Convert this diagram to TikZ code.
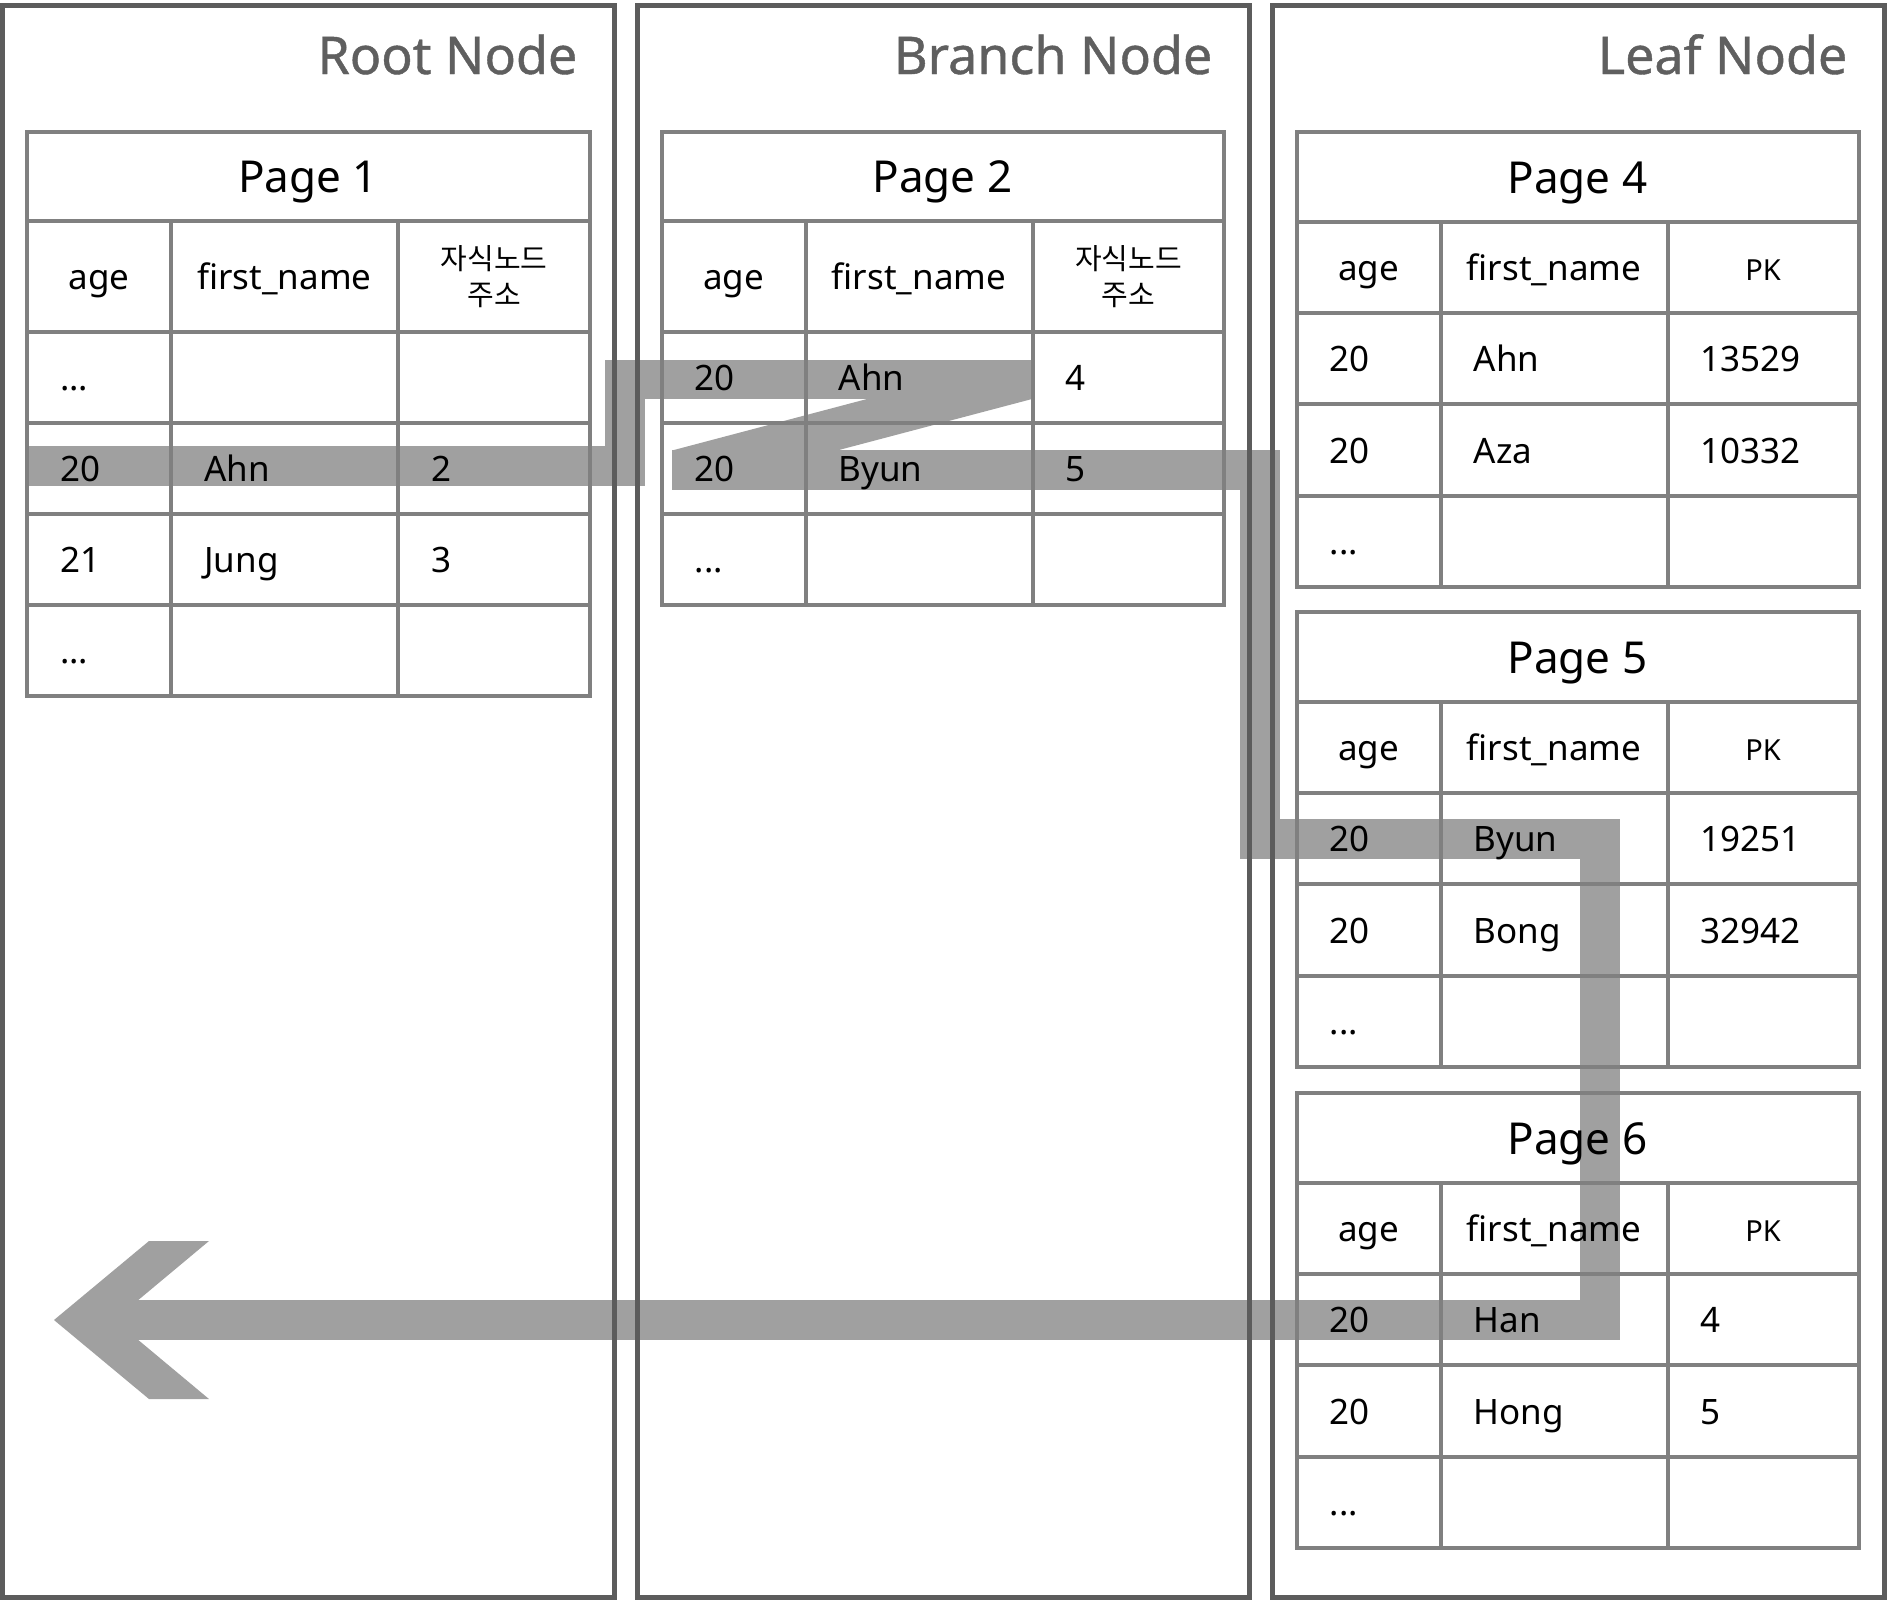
\documentclass[tikz,border=0pt]{standalone}
\usepackage{fontspec}
\setmainfont{Noto Sans}
\newfontfamily\krfont{Noto Sans CJK KR}
\newfontfamily\ttlfont[FakeBold=0.8]{Noto Sans}
\definecolor{panelgray}{HTML}{5C5C5C}
\definecolor{gridgray}{HTML}{808080}
\definecolor{bandgray}{HTML}{A0A0A0}
\definecolor{titlegray}{HTML}{5F5F5F}
\newcommand\dotsx{...}
\tikzset{
  panel/.style={draw=panelgray, line width=5pt},
  grid/.style={draw=gridgray, line width=4pt},
  band/.style={draw=bandgray, line width=39.5pt, line join=miter, line cap=butt},
  ttl/.style={font=\ttlfont\fontsize{52}{62}\selectfont, text=titlegray, anchor=base east, inner sep=0pt},
  pg/.style={font=\fontsize{44}{52}\selectfont, anchor=base, inner sep=0pt},
  hd/.style={font=\fontsize{35}{42}\selectfont, anchor=base, inner sep=0pt},
  pk/.style={font=\fontsize{29}{35}\selectfont, anchor=base, inner sep=0pt},
  kr/.style={font=\krfont\fontsize{29}{36}\selectfont, align=center, inner sep=0pt},
  cell/.style={font=\fontsize{35}{42}\selectfont, anchor=base west, inner sep=0pt},
}
\begin{document}
\begin{tikzpicture}[x=1pt,y=-1pt]
\useasboundingbox (0,0) rectangle (1888,1604);
\fill[white] (0,0) rectangle (1888,1604);

% ---------- highlight band (drawn first, below lines and text)
\draw[band] (27,466) -- (625,466) -- (625,379.5) -- (1032,379.5);
\fill[bandgray] (867,399) -- (1032,399) -- (837,450.5) -- (672,450.5) -- cycle;
\draw[band] (672,470) -- (1260,470) -- (1260,839) -- (1600,839) -- (1600,1320) -- (138,1320);
\fill[bandgray] (54,1320) -- (149,1241) -- (209,1241) -- (138,1300.25) -- (138,1339.75) -- (209,1399) -- (149,1399) -- cycle;

% ---------- panels
\draw[panel] (2.5,5) rectangle (614.5,1597);
\draw[panel] (637.5,5) rectangle (1249.5,1597);
\draw[panel] (1272.5,5) rectangle (1884.5,1597);
\node[ttl] (rootT) at (577.5,74) {Root Node};
\node[ttl] (branchT) at (1212.5,74) {Branch Node};
\node[ttl] (leafT) at (1847.5,74) {Leaf Node};

% ---------- Page 1 (root)
\draw[grid] (27,132) rectangle (589.5,696);
\foreach \yy in {221,332,423,514,605} \draw[grid] (27,\yy) -- (589.5,\yy);
\foreach \xx in {171,398} \draw[grid] (\xx,221) -- (\xx,696);
\node[pg] (p1t) at (308,192.5) {Page 1};
\node[hd] (p1ha) at (99,289.5) {age};
\node[hd] (p1hb) at (284.5,289.5) {first\_name};
\node[kr] (p1hc) at (494,277) {자식노드\\주소};
\foreach \yy/\ta/\tb/\tc [count=\i] in {390.5/\dotsx/{}/{}, 481.5/20/Ahn/2, 572.5/21/Jung/3, 663.5/\dotsx/{}/{}} {
  \node[cell] (p1r\i a) at (60,\yy) {\ta};
  \node[cell] (p1r\i b) at (204,\yy) {\tb};
  \node[cell] (p1r\i c) at (431,\yy) {\tc};
}

% ---------- Page 2 (branch)
\draw[grid] (661.5,132) rectangle (1224,605);
\foreach \yy in {221,332,423,514} \draw[grid] (661.5,\yy) -- (1224,\yy);
\foreach \xx in {805.5,1032.5} \draw[grid] (\xx,221) -- (\xx,605);
\node[pg] (p2t) at (942.5,192.5) {Page 2};
\node[hd] (p2ha) at (733.5,289.5) {age};
\node[hd] (p2hb) at (919,289.5) {first\_name};
\node[kr] (p2hc) at (1128.5,277) {자식노드\\주소};
\foreach \yy/\ta/\tb/\tc [count=\i] in {390.5/20/Ahn/4, 481.5/20/Byun/5, 572.5/\dotsx/{}/{}} {
  \node[cell] (p2r\i a) at (694.5,\yy) {\ta};
  \node[cell] (p2r\i b) at (838.5,\yy) {\tb};
  \node[cell] (p2r\i c) at (1065.5,\yy) {\tc};
}

% ---------- Leaf pages 4, 5, 6
\foreach \top/\pn/\ra/\rb/\rc/\sa/\sb/\sc in {
    132/4/20/Ahn/13529/20/Aza/10332,
    612/5/20/Byun/19251/20/Bong/32942,
    1093/6/20/Han/4/20/Hong/5} {
  \begin{scope}[yshift=-\top pt]
    \draw[grid] (1296.5,0) rectangle (1859,455);
    \foreach \yy in {90,181,272.3,363.7} \draw[grid] (1296.5,\yy) -- (1859,\yy);
    \foreach \xx in {1440.5,1667.5} \draw[grid] (\xx,90) -- (\xx,455);
    \node[pg] (p\pn t) at (1577.5,61) {Page \pn};
    \node[hd] (p\pn ha) at (1368.5,148) {age};
    \node[hd] (p\pn hb) at (1554,148) {first\_name};
    \node[pk] (p\pn hc) at (1763,148) {PK};
    \node[cell] (p\pn r1a) at (1329.5,239.7) {\ra};
    \node[cell] (p\pn r1b) at (1473.5,239.7) {\rb};
    \node[cell] (p\pn r1c) at (1700.5,239.7) {\rc};
    \node[cell] (p\pn r2a) at (1329.5,331) {\sa};
    \node[cell] (p\pn r2b) at (1473.5,331) {\sb};
    \node[cell] (p\pn r2c) at (1700.5,331) {\sc};
    \node[cell] (p\pn r3a) at (1329.5,422.3) {\dotsx};
  \end{scope}
}
\end{tikzpicture}
\end{document}
